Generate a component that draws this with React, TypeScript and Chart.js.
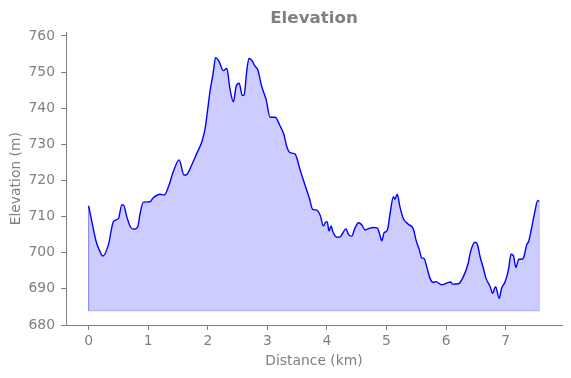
import React, { useEffect, useRef } from "react";
import { Chart, registerables } from "chart.js";

Chart.register(...registerables);

const distanceKm: number[] = [
  0, 0.054, 0.126, 0.19, 0.238, 0.33, 0.416, 0.5, 0.557, 0.585, 0.64, 0.7, 0.763, 0.825, 0.864, 0.92,
  1.03, 1.077, 1.2, 1.27, 1.34, 1.42, 1.52, 1.6, 1.65, 1.73, 1.815, 1.9, 1.955, 1.99, 2.04, 2.09, 2.13,
  2.19, 2.26, 2.32, 2.37, 2.43, 2.475, 2.525, 2.58, 2.61, 2.65, 2.69, 2.74, 2.79, 2.84, 2.905, 2.98,
  3.045, 3.13, 3.21, 3.28, 3.325, 3.38, 3.465, 3.55, 3.63, 3.705, 3.76, 3.83, 3.89, 3.94, 3.985, 4.005,
  4.035, 4.07, 4.1, 4.165, 4.22, 4.32, 4.36, 4.415, 4.47, 4.53, 4.585, 4.64, 4.72, 4.78, 4.845, 4.88,
  4.92, 4.96, 4.99, 5.02, 5.06, 5.115, 5.14, 5.18, 5.225, 5.28, 5.365, 5.45, 5.495, 5.55, 5.59, 5.63,
  5.675, 5.73, 5.785, 5.83, 5.925, 6.01, 6.075, 6.11, 6.205, 6.29, 6.37, 6.41, 6.485, 6.525, 6.57,
  6.625, 6.67, 6.74, 6.78, 6.83, 6.89, 6.93, 6.99, 7.045, 7.09, 7.13, 7.17, 7.22, 7.27, 7.31, 7.35,
  7.385, 7.445, 7.49, 7.535, 7.565,
];

const elevationM: number[] = [
  713.0, 708.6, 703.1, 700.3, 699.1, 702.1, 708.6, 709.5, 713.2, 713.2, 710.0, 707.2, 706.5, 707.2, 710.9, 714.0,
  714.1, 715.1, 716.2, 716.0, 718.3, 722.4, 725.7, 721.5, 721.7, 724.3, 727.5, 730.7, 734.4, 738.6, 745.0, 749.7, 754.0,
  752.9, 750.4, 751.0, 745.5, 741.8, 746.0, 746.9, 743.5, 743.7, 749.7, 753.8, 753.2, 751.7, 750.6, 746.0, 742.3,
  737.5, 737.5, 735.2, 732.6, 729.4, 727.7, 727.3, 722.9, 718.8, 715.1, 712.0, 711.8, 710.2, 707.4, 708.6, 708.5,
  706.0, 707.4, 705.8, 704.3, 704.4, 706.6, 705.1, 704.6, 706.8, 708.3, 707.7, 706.3, 706.8, 707.0, 706.9, 705.4,
  703.3, 705.6, 705.8, 706.6, 710.9, 715.5, 714.8, 716.2, 712.7, 709.5, 707.9, 706.6, 703.5, 700.8, 698.6, 698.4,
  696.1, 692.9, 691.8, 692.0, 691.1, 691.6, 691.9, 691.3, 691.4, 693.4, 697.1, 700.3, 702.9, 702.3, 698.9,
  695.7, 692.9, 690.6, 688.8, 690.6, 687.4, 690.1, 692.0, 695.2, 699.6, 699.2, 695.9, 698.2, 698.2, 699.1, 702.1,
  703.1, 707.7, 711.4, 714.4, 714.3,
];

const fillBase = 683.9;
const xTicks: number[] = [0, 1, 2, 3, 4, 5, 6, 7];
const yTicks: number[] = [680, 690, 700, 710, 720, 730, 740, 750, 760];

const GRAY = "#808080";
const FONT = "'DejaVu Sans', sans-serif";

export default function App() {
  const ref = useRef<HTMLCanvasElement>(null);

  useEffect(() => {
    if (!ref.current) return;
    const profile = distanceKm.map((x, i) => ({ x, y: elevationM[i] }));
    const n = distanceKm.length - 1;
    const outline = [
      { x: distanceKm[0], y: elevationM[0] },
      { x: distanceKm[0], y: fillBase },
      { x: distanceKm[n], y: fillBase },
      { x: distanceKm[n], y: elevationM[n] },
    ];
    const chart = new Chart(ref.current, {
      type: "line",
      data: {
        datasets: [
          {
            data: outline,
            borderColor: "rgba(0,0,255,0.2)",
            borderWidth: 1,
            pointRadius: 0,
            fill: false,
            order: 2,
          },
          {
            data: profile,
            borderColor: "#0000ff",
            borderWidth: 1.4,
            pointRadius: 0,
            cubicInterpolationMode: "monotone",
            fill: { value: fillBase },
            backgroundColor: "rgba(0,0,255,0.2)",
            order: 1,
          },
        ],
      },
      options: {
        responsive: false,
        animation: false,
        events: [],
        layout: { padding: { left: 0, right: 9, top: 0, bottom: 0 } },
        plugins: {
          legend: { display: false },
          tooltip: { enabled: false },
          title: {
            display: true,
            text: "Elevation",
            fullSize: false,
            color: GRAY,
            font: { family: FONT, size: 16.7, weight: "bold" },
            padding: { top: 8.5, bottom: 3.8 },
          },
        },
        scales: {
          x: {
            type: "linear",
            min: -0.38,
            max: 7.945,
            afterFit: (s: any) => {
              s.height = 53;
            },
            afterBuildTicks: (s: any) => {
              s.ticks = xTicks.map((v) => ({ value: v }));
            },
            ticks: {
              color: GRAY,
              font: { family: FONT, size: 13.9 },
              padding: 3,
              maxRotation: 0,
              autoSkip: false,
            },
            grid: { drawOnChartArea: false, drawTicks: true, tickLength: 5, color: GRAY },
            border: { display: true, color: GRAY, width: 1 },
            title: {
              display: true,
              text: "Distance (km)",
              color: GRAY,
              font: { family: FONT, size: 13.9 },
              padding: { top: 0, bottom: 8.7 },
            },
          },
          y: {
            type: "linear",
            min: 680,
            max: 761,
            afterFit: (s: any) => {
              s.width = 66;
            },
            afterBuildTicks: (s: any) => {
              s.ticks = yTicks.map((v) => ({ value: v }));
            },
            ticks: {
              color: GRAY,
              font: { family: FONT, size: 13.9 },
              padding: 6,
              autoSkip: false,
            },
            grid: { drawOnChartArea: false, drawTicks: true, tickLength: 5, color: GRAY },
            border: { display: true, color: GRAY, width: 1 },
            title: {
              display: true,
              text: "Elevation (m)",
              color: GRAY,
              font: { family: FONT, size: 13.9 },
              padding: { top: 8.4, bottom: 0 },
            },
          },
        },
      },
    } as any);
    return () => chart.destroy();
  }, []);

  return (
    <div style={{ position: "fixed", left: 0, top: 0, width: 571, height: 378, background: "#fff" }}>
      <canvas ref={ref} width={571} height={378} style={{ display: "block" }} />
    </div>
  );
}
